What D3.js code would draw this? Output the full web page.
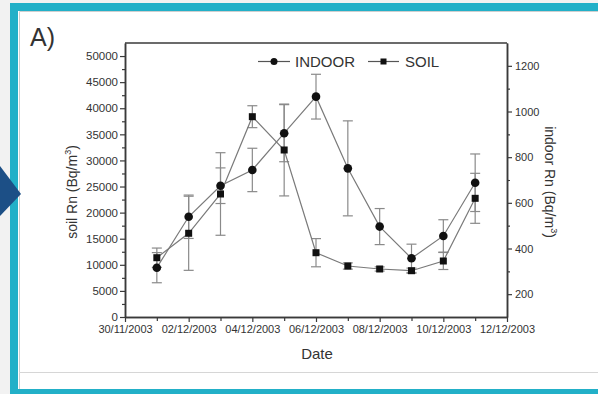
<!DOCTYPE html>
<html>
<head>
<meta charset="utf-8">
<script src="https://cdn.jsdelivr.net/npm/d3@7"></script>
<style>
  html, body { margin: 0; padding: 0; background: #f2f2f2; }
  svg { display: block; }
  text { font-family: "Liberation Sans", Arial, sans-serif; fill: #333; }
</style>
</head>
<body>
<svg id="chart" width="598" height="394"></svg>
<script>
// Sampling dates (December 2003)
const dates = ["2003-12-01", "2003-12-02", "2003-12-03", "2003-12-04", "2003-12-05", "2003-12-06",
               "2003-12-07", "2003-12-08", "2003-12-09", "2003-12-10", "2003-12-11"];
// Indoor radon concentration (Bq/m3) and its error
const indoor    = [316, 539, 675, 744, 905, 1065, 751, 496, 357, 455, 688];
const indoorErr = [66, 95, 78, 95, 125, 98, 208, 79, 62, 71, 126];
// Soil radon concentration (Bq/m3) and its error
const soil      = [11360, 16040, 23570, 38380, 32000, 12320, 9770, 9200, 8870, 10730, 22740];
const soilErr   = [1850, 7100, 7910, 2100, 8800, 2700, 600, 400, 500, 1630, 4790];
// Axis tick values
const soilTicks   = [0, 5000, 10000, 15000, 20000, 25000, 30000, 35000, 40000, 45000, 50000];
const indoorTicks = [200, 400, 600, 800, 1000, 1200];
const dateTicks   = ["2003-11-30", "2003-12-02", "2003-12-04", "2003-12-06", "2003-12-08", "2003-12-10", "2003-12-12"];
const seriesNames = ["INDOOR", "SOIL"];

const parse = d3.utcParse("%Y-%m-%d");
const fmt = d3.utcFormat("%d/%m/%Y");

const svg = d3.select("#chart");

// Page frame: teal border, white panel, navigation wedge
svg.append("rect").attr("x", 10).attr("y", 3).attr("width", 588).attr("height", 391).attr("fill", "#22b0c8");
svg.append("rect").attr("x", 18).attr("y", 11).attr("width", 580).attr("height", 378).attr("fill", "#ffffff");
svg.append("path").attr("d", "M19.5,11.5 H598 M19.5,11.5 V389").attr("stroke", "#cfcfcf").attr("fill", "none");
svg.append("line").attr("x1", 19).attr("x2", 598).attr("y1", 372.5).attr("y2", 372.5).attr("stroke", "#d6d6d6");
svg.append("path").attr("d", "M0,166 L21,194 L0,216 Z").attr("fill", "#1c4f86");

svg.append("text").attr("x", 30).attr("y", 46).attr("font-size", 25).style("fill", "#333").text("A)");

// Plot area
const L = 125, R = 507, T = 43, B = 317;

const x = d3.scaleUtc().domain([parse("2003-11-30"), parse("2003-12-12")]).range([L, R]);
const ySoil = d3.scaleLinear().domain([0, 52500]).range([B, T]);
const yIn = d3.scaleLinear().domain([100, 1300]).range([B, T]);

const axisColor = "#3a3a3a";
function styleAxis(g) {
  g.select(".domain").attr("stroke", axisColor).attr("stroke-width", 1.5);
  g.selectAll(".tick line").attr("stroke", axisColor).attr("stroke-width", 1.2);
  g.selectAll(".tick text").attr("font-size", 11).style("fill", "#333");
}

// Frame top line
svg.append("line").attr("x1", L).attr("x2", R).attr("y1", T).attr("y2", T)
  .attr("stroke", axisColor).attr("stroke-width", 1.5);

// Left axis (soil)
svg.append("g").attr("transform", `translate(${L},0)`)
  .call(d3.axisLeft(ySoil).tickValues(d3.range(2500, 50000, 5000)).tickSize(3).tickFormat("").tickSizeOuter(0))
  .call(styleAxis);
svg.append("g").attr("transform", `translate(${L},0)`)
  .call(d3.axisLeft(ySoil).tickValues(soilTicks).tickSize(5).tickPadding(2).tickSizeOuter(0).tickFormat(d3.format("d")))
  .call(styleAxis)
  .selectAll(".tick text").attr("font-size", 11.5);

// Right axis (indoor)
svg.append("g").attr("transform", `translate(${R},0)`)
  .call(d3.axisRight(yIn).tickValues(d3.range(300, 1200, 200)).tickSize(3).tickFormat("").tickSizeOuter(0))
  .call(styleAxis);
svg.append("g").attr("transform", `translate(${R},0)`)
  .call(d3.axisRight(yIn).tickValues(indoorTicks).tickSize(5).tickPadding(3).tickSizeOuter(0).tickFormat(d3.format("d")))
  .call(styleAxis);

// Bottom axis (date)
const oddDays = dates.filter((d, i) => i % 2 === 0).map(parse);
svg.append("g").attr("transform", `translate(0,${B})`)
  .call(d3.axisBottom(x).tickValues(oddDays).tickSize(4).tickFormat("").tickSizeOuter(0))
  .call(styleAxis);
svg.append("g").attr("transform", `translate(0,${B})`)
  .call(d3.axisBottom(x).tickValues(dateTicks.map(parse)).tickSize(5).tickPadding(3).tickSizeOuter(0).tickFormat(fmt))
  .call(styleAxis);

// Axis titles
svg.append("text").attr("x", 317).attr("y", 359).attr("text-anchor", "middle").attr("font-size", 15).text("Date");

const lt = svg.append("text").attr("transform", "translate(77,192) rotate(-90)")
  .attr("text-anchor", "middle").attr("font-size", 14);
lt.append("tspan").text("soil Rn (Bq/m");
lt.append("tspan").attr("font-size", 9).attr("dy", -6).text("3");
lt.append("tspan").attr("dy", 6).text(")");

const rt = svg.append("text").attr("transform", "translate(545,182) rotate(90)")
  .attr("text-anchor", "middle").attr("font-size", 14);
rt.append("tspan").text("indoor Rn (Bq/m");
rt.append("tspan").attr("font-size", 9).attr("dy", -6).text("3");
rt.append("tspan").attr("dy", 6).text(")");

// Series data
const rows = dates.map((d, i) => ({
  date: parse(d), indoor: indoor[i], indoorErr: indoorErr[i], soil: soil[i], soilErr: soilErr[i]
}));

const lineColor = "#7a7a7a";
const errColor = "#8a8a8a";

function errorBars(yScale, key, errKey) {
  const g = svg.append("g").attr("stroke", errColor).attr("stroke-width", 1.2).attr("fill", "none");
  rows.forEach(r => {
    const cx = x(r.date);
    const y1 = yScale(r[key] + r[errKey]);
    const y2 = yScale(r[key] - r[errKey]);
    g.append("line").attr("x1", cx).attr("x2", cx).attr("y1", y1).attr("y2", y2);
    g.append("line").attr("x1", cx - 5).attr("x2", cx + 5).attr("y1", y1).attr("y2", y1);
    g.append("line").attr("x1", cx - 5).attr("x2", cx + 5).attr("y1", y2).attr("y2", y2);
  });
}

errorBars(ySoil, "soil", "soilErr");
errorBars(yIn, "indoor", "indoorErr");

svg.append("path").datum(rows)
  .attr("d", d3.line().x(d => x(d.date)).y(d => ySoil(d.soil)))
  .attr("fill", "none").attr("stroke", lineColor).attr("stroke-width", 1.2);
svg.append("path").datum(rows)
  .attr("d", d3.line().x(d => x(d.date)).y(d => yIn(d.indoor)))
  .attr("fill", "none").attr("stroke", lineColor).attr("stroke-width", 1.2);

svg.append("g").selectAll("rect").data(rows).join("rect")
  .attr("x", d => x(d.date) - 3.5).attr("y", d => ySoil(d.soil) - 3.5)
  .attr("width", 7).attr("height", 7).attr("fill", "#111");
svg.append("g").selectAll("circle").data(rows).join("circle")
  .attr("cx", d => x(d.date)).attr("cy", d => yIn(d.indoor)).attr("r", 4.3).attr("fill", "#111");

// Legend
const legY = 61.5;
const leg = svg.append("g");
leg.append("line").attr("x1", 258).attr("x2", 290).attr("y1", legY).attr("y2", legY).attr("stroke", "#555").attr("stroke-width", 1.2);
leg.append("circle").attr("cx", 274).attr("cy", legY).attr("r", 3.5).attr("fill", "#111");
leg.append("text").attr("x", 295).attr("y", legY + 5.5).attr("font-size", 15).text(seriesNames[0]);
leg.append("line").attr("x1", 368).attr("x2", 399).attr("y1", legY).attr("y2", legY).attr("stroke", "#555").attr("stroke-width", 1.2);
leg.append("rect").attr("x", 380.5).attr("y", legY - 3).attr("width", 6).attr("height", 6).attr("fill", "#111");
leg.append("text").attr("x", 405).attr("y", legY + 5.5).attr("font-size", 15).text(seriesNames[1]);
</script>
</body>
</html>
